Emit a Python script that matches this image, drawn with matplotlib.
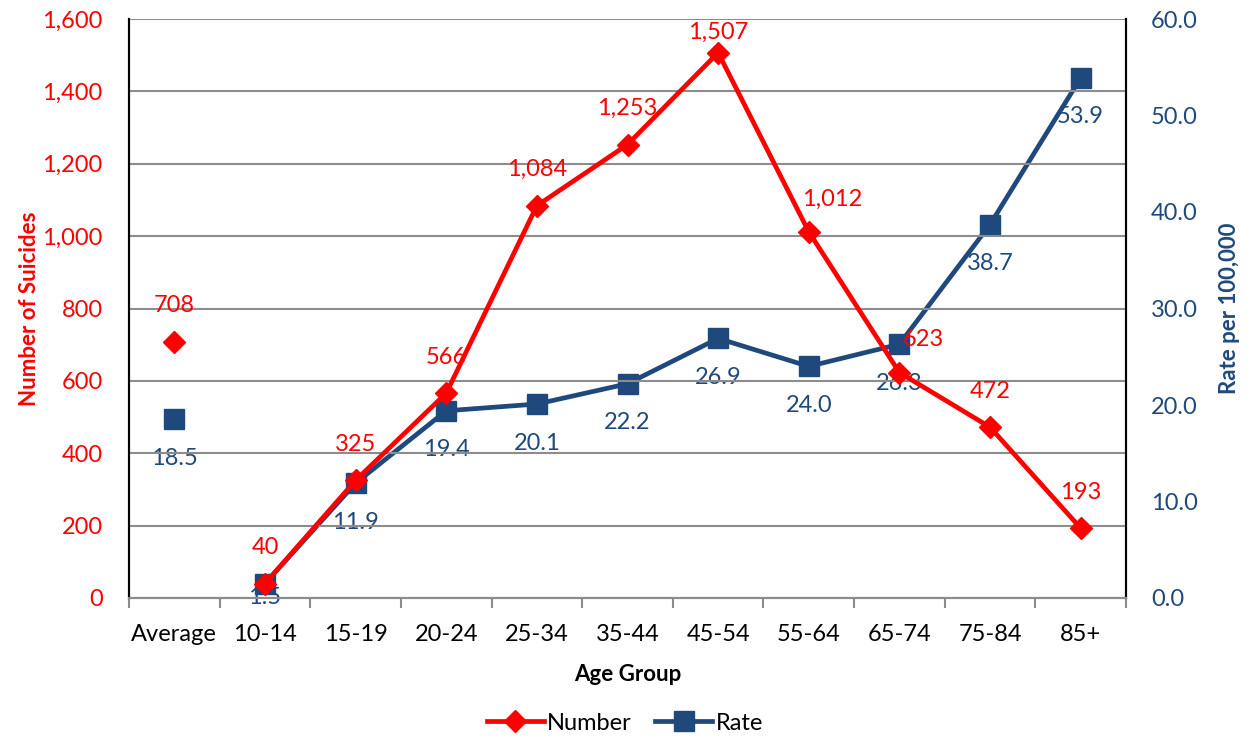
import matplotlib
matplotlib.use("Agg")
import matplotlib.pyplot as plt
from matplotlib.ticker import FixedLocator, FuncFormatter, MultipleLocator

plt.rcParams['font.family'] = ['Lato', 'DejaVu Sans']

categories = ["Average", "10-14", "15-19", "20-24", "25-34", "35-44",
              "45-54", "55-64", "65-74", "75-84", "85+"]
numbers = [708, 40, 325, 566, 1084, 1253, 1507, 1012, 623, 472, 193]
rates = [18.5, 1.5, 11.9, 19.4, 20.1, 22.2, 26.9, 24.0, 26.3, 38.7, 53.9]

RED = "#FF0000"
BLUE = "#1F497D"
GRID = "#8C8C8C"
FS = 17

fig = plt.figure(figsize=(12.47, 7.37), dpi=100)
ax = fig.add_axes([129 / 1247, 1 - 598 / 737, (1126 - 129) / 1247, (598 - 19) / 737])
ax2 = ax.twinx()

x = list(range(len(categories)))

# Number of suicides (left axis)
ax.set_ylim(0, 1600)
ax.set_xlim(-0.5, len(categories) - 0.5)
ax.yaxis.set_major_locator(MultipleLocator(200))
ax.yaxis.set_major_formatter(FuncFormatter(lambda v, p: f"{int(v):,}"))
ax.grid(axis='y', color=GRID, linewidth=1.5, zorder=0)
ax.set_axisbelow(True)

# Rate per 100,000 (right axis)
ax2.set_ylim(0, 60)
ax2.yaxis.set_major_locator(MultipleLocator(10))
ax2.yaxis.set_major_formatter(FuncFormatter(lambda v, p: f"{v:.1f}"))

lw = 3.4
ax2.plot(x[1:], rates[1:], color=BLUE, linewidth=lw, marker='s', markersize=14,
         zorder=3, solid_capstyle='round')
ax2.plot(x[:1], rates[:1], color=BLUE, linestyle='none', marker='s', markersize=14, zorder=3)

# the red series sits above the blue one
ax.set_zorder(ax2.get_zorder() + 1)
ax.patch.set_visible(False)
ax.plot(x[1:], numbers[1:], color=RED, linewidth=lw, marker='D', markersize=11,
        zorder=4, solid_capstyle='round')
ax.plot(x[:1], numbers[:1], color=RED, linestyle='none', marker='D', markersize=11, zorder=4)

# Data labels
num_off = {i: (0, 36) for i in x}
num_off[6] = (0, 20)
num_off[7] = (23, 32)
num_off[8] = (24, 33)
rate_off = {i: (0, -39) for i in x}
rate_off[1] = (0, -14)

for i, v in enumerate(numbers):
    ax.annotate(f"{v:,}", (i, v), xytext=num_off[i], textcoords='offset pixels',
                ha='center', va='center', color=RED, fontsize=FS, zorder=5)
for i, v in enumerate(rates):
    ax2.annotate(f"{v:.1f}", (i, v), xytext=rate_off[i], textcoords='offset pixels',
                 ha='center', va='center', color=BLUE, fontsize=FS, zorder=5)

# Axes styling
for a in (ax, ax2):
    a.spines['top'].set_visible(False)
    a.spines['left'].set_color('black')
    a.spines['left'].set_linewidth(1.5)
    a.spines['right'].set_color('black')
    a.spines['right'].set_linewidth(1.5)
    a.spines['bottom'].set_color(GRID)
    a.spines['bottom'].set_linewidth(1.5)

ax.tick_params(axis='y', length=0, pad=19, labelsize=FS, labelcolor=RED)
ax2.tick_params(axis='y', length=0, pad=18, labelsize=FS, labelcolor=BLUE)

ax.xaxis.set_major_locator(FixedLocator(x))
ax.set_xticklabels(categories)
ax.xaxis.set_minor_locator(FixedLocator([i - 0.5 for i in range(len(categories) + 1)]))
ax.tick_params(axis='x', which='major', length=0, pad=19, labelsize=FS)
ax.tick_params(axis='x', which='minor', length=7, width=1.5, color=GRID, direction='out')

ax.set_ylabel("Number of Suicides", color=RED, fontsize=16, fontweight='bold')
ax.yaxis.set_label_coords(-89 / 997, 0.5)
ax2.set_ylabel("Rate per 100,000", color=BLUE, fontsize=16, fontweight='bold')
ax2.yaxis.set_label_coords(1 + 93 / 997, 0.5)
ax.set_xlabel("Age Group", fontsize=16, fontweight='bold')
ax.xaxis.set_label_coords(0.5, -(664 - 598) / 579)

# Legend
h1 = plt.Line2D([], [], color=RED, linewidth=lw, marker='D', markersize=11)
h2 = plt.Line2D([], [], color=BLUE, linewidth=lw, marker='s', markersize=14)
fig.legend([h1, h2], ["Number", "Rate"], loc='center', bbox_to_anchor=(625 / 1247, 1 - 723 / 737),
           ncol=2, frameon=False, fontsize=FS, handlelength=2.4, handletextpad=0.15,
           columnspacing=1.0, borderpad=0.2)

fig.savefig("out.png", dpi=100)
